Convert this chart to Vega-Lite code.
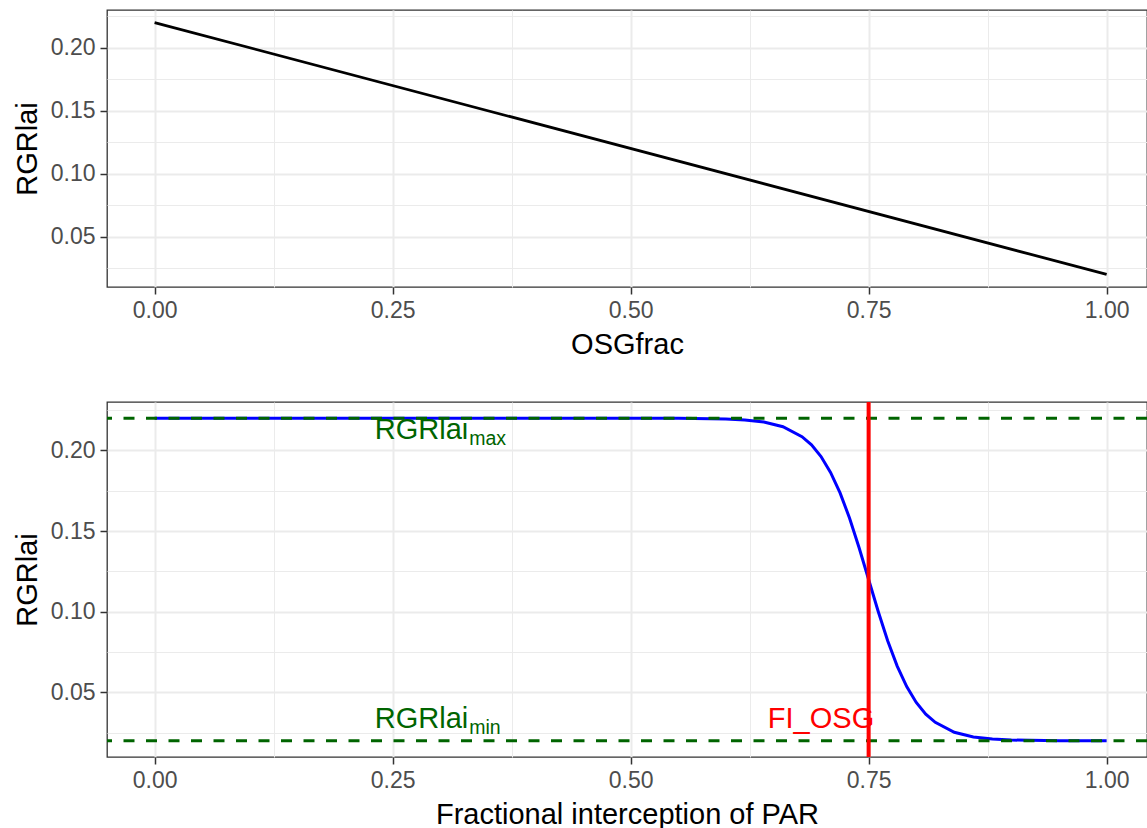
{
  "$schema": "https://vega.github.io/schema/vega-lite/v6.json",
  "background": "white",
  "padding": {"left": 12, "top": 9, "right": 0, "bottom": 0},
  "spacing": 39,
  "datasets": {
    "lin": [
      {"x": 0, "y": 0.22},
      {"x": 1, "y": 0.02}
    ],
    "curve": [
      {"x": 0, "y": 0.22}, {"x": 0.05, "y": 0.22}, {"x": 0.1, "y": 0.22}, {"x": 0.15, "y": 0.22},
      {"x": 0.2, "y": 0.22}, {"x": 0.25, "y": 0.22}, {"x": 0.3, "y": 0.22}, {"x": 0.35, "y": 0.22},
      {"x": 0.4, "y": 0.22}, {"x": 0.45, "y": 0.22}, {"x": 0.5, "y": 0.22}, {"x": 0.55, "y": 0.2199},
      {"x": 0.6, "y": 0.2195}, {"x": 0.62, "y": 0.2189}, {"x": 0.64, "y": 0.2176}, {"x": 0.66, "y": 0.2147},
      {"x": 0.68, "y": 0.2085}, {"x": 0.69, "y": 0.2034}, {"x": 0.7, "y": 0.1962}, {"x": 0.71, "y": 0.1864},
      {"x": 0.72, "y": 0.1737}, {"x": 0.73, "y": 0.158}, {"x": 0.74, "y": 0.1397}, {"x": 0.75, "y": 0.12},
      {"x": 0.76, "y": 0.1003}, {"x": 0.77, "y": 0.082}, {"x": 0.78, "y": 0.0663}, {"x": 0.79, "y": 0.0536},
      {"x": 0.8, "y": 0.0438}, {"x": 0.81, "y": 0.0366}, {"x": 0.82, "y": 0.0315}, {"x": 0.84, "y": 0.0253},
      {"x": 0.86, "y": 0.0224}, {"x": 0.88, "y": 0.0211}, {"x": 0.9, "y": 0.0205}, {"x": 0.95, "y": 0.0201},
      {"x": 1, "y": 0.02}
    ],
    "hlines": [{"y": 0.22}, {"y": 0.02}],
    "vline": [{"x": 0.75}],
    "rlab": [
      {"x": 0.3, "y": 0.207, "main": "RGRlai", "sub": "max"},
      {"x": 0.3, "y": 0.028, "main": "RGRlai", "sub": "min"}
    ],
    "fi": [{"x": 0.7, "y": 0.028, "label": "FI_OSG"}]
  },
  "vconcat": [
    {
      "width": 1040,
      "height": 277,
      "data": {"name": "lin"},
      "mark": {"type": "line", "color": "#000000", "strokeWidth": 2.8},
      "encoding": {
        "x": {
          "field": "x", "type": "quantitative", "title": "OSGfrac",
          "scale": {"domain": [-0.05, 1.0424], "nice": false, "zero": false},
          "axis": {
            "values": [0, 0.125, 0.25, 0.375, 0.5, 0.625, 0.75, 0.875, 1],
            "format": ".2f",
            "labelExpr": "round(datum.value*8)%2==1 ? '' : datum.label",
            "tickOpacity": {"condition": {"test": "round(datum.value*8)%2==1", "value": 0}, "value": 1},
            "gridWidth": {"condition": {"test": "round(datum.value*8)%2==1", "value": 1}, "value": 2}
          }
        },
        "y": {
          "field": "y", "type": "quantitative", "title": "RGRlai",
          "scale": {"domain": [0.01, 0.23], "nice": false, "zero": false},
          "axis": {
            "values": [0.025, 0.05, 0.075, 0.1, 0.125, 0.15, 0.175, 0.2, 0.225],
            "format": ".2f",
            "labelExpr": "round(datum.value*40)%2==1 ? '' : datum.label",
            "tickOpacity": {"condition": {"test": "round(datum.value*40)%2==1", "value": 0}, "value": 1},
            "gridWidth": {"condition": {"test": "round(datum.value*40)%2==1", "value": 1}, "value": 2}
          }
        }
      }
    },
    {
      "width": 1040,
      "height": 355,
      "encoding": {
        "x": {
          "field": "x", "type": "quantitative", "title": "Fractional interception of PAR",
          "scale": {"domain": [-0.05, 1.0424], "nice": false, "zero": false},
          "axis": {
            "values": [0, 0.125, 0.25, 0.375, 0.5, 0.625, 0.75, 0.875, 1],
            "format": ".2f",
            "labelExpr": "round(datum.value*8)%2==1 ? '' : datum.label",
            "tickOpacity": {"condition": {"test": "round(datum.value*8)%2==1", "value": 0}, "value": 1},
            "gridWidth": {"condition": {"test": "round(datum.value*8)%2==1", "value": 1}, "value": 2}
          }
        },
        "y": {
          "field": "y", "type": "quantitative", "title": "RGRlai",
          "scale": {"domain": [0.01, 0.23], "nice": false, "zero": false},
          "axis": {
            "values": [0.025, 0.05, 0.075, 0.1, 0.125, 0.15, 0.175, 0.2, 0.225],
            "format": ".2f",
            "labelExpr": "round(datum.value*40)%2==1 ? '' : datum.label",
            "tickOpacity": {"condition": {"test": "round(datum.value*40)%2==1", "value": 0}, "value": 1},
            "gridWidth": {"condition": {"test": "round(datum.value*40)%2==1", "value": 1}, "value": 2}
          }
        }
      },
      "layer": [
        {
          "data": {"name": "curve"},
          "mark": {"type": "line", "color": "#0000FF", "strokeWidth": 3}
        },
        {
          "data": {"name": "hlines"},
          "mark": {"type": "rule", "color": "#006400", "strokeWidth": 3, "strokeDash": [11, 11.5]},
          "encoding": {"x": null, "y": {"field": "y", "type": "quantitative"}}
        },
        {
          "data": {"name": "vline"},
          "mark": {"type": "rule", "color": "#FF0000", "strokeWidth": 4},
          "encoding": {"x": {"field": "x", "type": "quantitative"}, "y": null}
        },
        {
          "data": {"name": "rlab"},
          "mark": {"type": "text", "color": "#006400", "font": "Liberation Sans", "fontSize": 29, "align": "right", "baseline": "alphabetic", "dx": 28},
          "encoding": {"text": {"field": "main"}}
        },
        {
          "data": {"name": "rlab"},
          "mark": {"type": "text", "color": "#006400", "font": "Liberation Sans", "fontSize": 19.5, "align": "left", "baseline": "alphabetic", "dx": 29, "dy": 6},
          "encoding": {"text": {"field": "sub"}}
        },
        {
          "data": {"name": "fi"},
          "mark": {"type": "text", "color": "#FF0000", "font": "Liberation Sans", "fontSize": 29, "align": "center", "baseline": "alphabetic"},
          "encoding": {"text": {"field": "label"}}
        }
      ]
    }
  ],
  "config": {
    "view": {"stroke": "#333333", "strokeWidth": 1.3},
    "font": "Liberation Sans",
    "axis": {
      "domain": false,
      "gridColor": "#EBEBEB",
      "tickColor": "#333333",
      "tickSize": 7,
      "tickWidth": 1.5,
      "labelFont": "Liberation Sans",
      "labelFontSize": 23,
      "labelColor": "#4D4D4D",
      "labelPadding": 5,
      "titleFont": "Liberation Sans",
      "titleFontSize": 29,
      "titleFontWeight": "normal",
      "titleColor": "#000000",
      "titlePadding": 8
    }
  }
}
